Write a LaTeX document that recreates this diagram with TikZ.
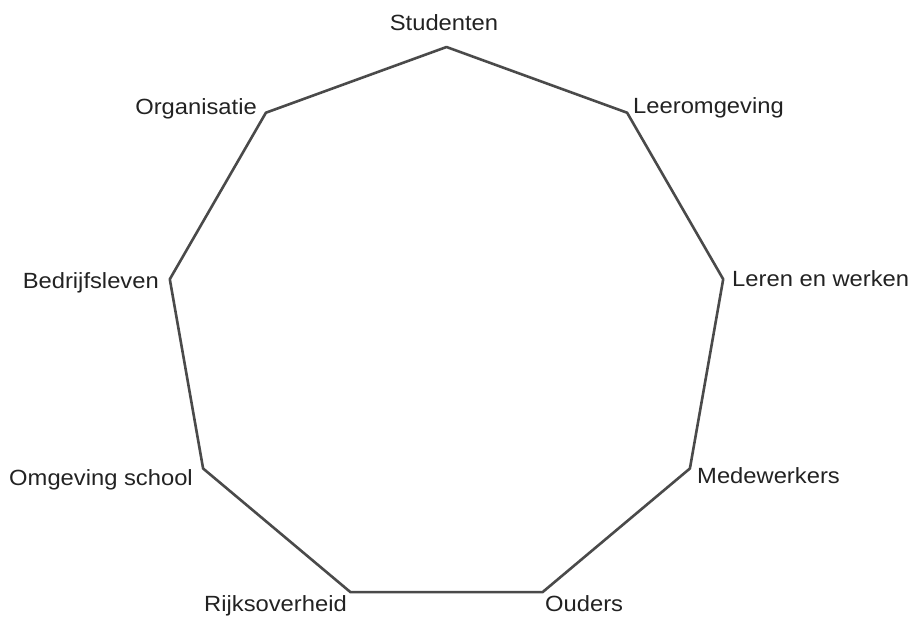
\documentclass[tikz,border=0pt]{standalone}
\usepackage{fontspec}
\setmainfont[FakeStretch=1.08]{Liberation Sans}
\definecolor{edgegray}{HTML}{4A4A4A}
\definecolor{labelgray}{HTML}{222222}
\tikzset{
  rim/.style={draw=edgegray, line width=2.6pt, line join=round},
  lbl/.style={inner sep=0pt, text=labelgray, font=\fontsize{22}{26}\selectfont}
}
\begin{document}
\begin{tikzpicture}[x=1pt,y=-1pt]
\useasboundingbox (0,0) rectangle (915,616);
% vertices of the nonagon
\coordinate (v1) at (446.5,47);
\coordinate (v2) at (627.1,112.7);
\coordinate (v3) at (723.2,279.2);
\coordinate (v4) at (689.9,468.5);
\coordinate (v5) at (542.6,592.1);
\coordinate (v6) at (350.4,592.1);
\coordinate (v7) at (203.1,468.5);
\coordinate (v8) at (169.8,279.2);
\coordinate (v9) at (265.9,112.7);
\draw[rim] (v1) -- (v2) -- (v3) -- (v4) -- (v5) -- (v6) -- (v7) -- (v8) -- (v9) -- cycle;
% labels
\node[lbl, anchor=base] (studenten) at (444,30) {Studenten};
\node[lbl, anchor=base west] (leeromgeving) at (633,113) {Leeromgeving};
\node[lbl, anchor=base west] (leren) at (732,286) {Leren en werken};
\node[lbl, anchor=base west] (medewerkers) at (697,483) {Medewerkers};
\node[lbl, anchor=base west] (ouders) at (545,611) {Ouders};
\node[lbl, anchor=base east] (rijks) at (347,611) {Rijksoverheid};
\node[lbl, anchor=base east] (omgeving) at (193,485) {Omgeving school};
\node[lbl, anchor=base east] (bedrijf) at (159,288) {Bedrijfsleven};
\node[lbl, anchor=base east] (organisatie) at (257,114) {Organisatie};
\end{tikzpicture}
\end{document}
